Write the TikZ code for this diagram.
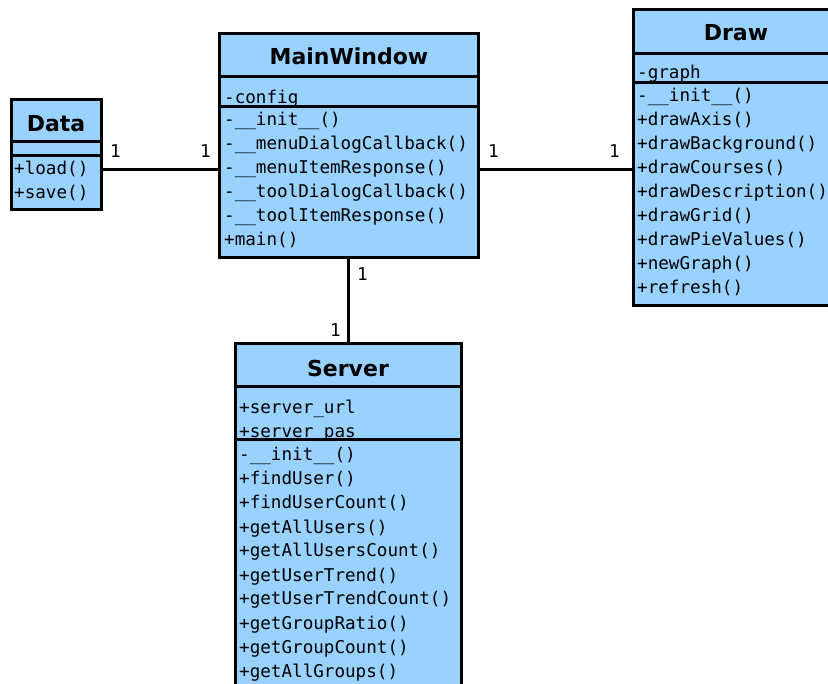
\documentclass[tikz,border=0pt]{standalone}
\usepackage{fontspec}
\setmainfont{DejaVu Sans}
\newfontfamily\umlmono{DejaVu Sans Mono}
\definecolor{umlfill}{RGB}{153,209,255}
\begin{document}
\begin{tikzpicture}[x=1pt,y=-1pt,
  classbox/.style={fill=umlfill, draw=none, anchor=north west, inner sep=0pt, outer sep=0pt},
  compfill/.style={fill=umlfill},
  outline/.style={draw=black, line width=3pt},
  title/.style={font=\fontsize{22}{26}\selectfont\bfseries, anchor=base, inner sep=0pt},
  member/.style={font=\umlmono\fontsize{17.6}{24}\selectfont, anchor=base west, inner sep=0pt},
  mult/.style={font=\umlmono\fontsize{17.6}{24}\selectfont, anchor=base west, inner sep=0pt},
  assoc/.style={draw=black, line width=3pt}]
\useasboundingbox (0,0) rectangle (828,684);
\clip (0,0) rectangle (828,684);

% ---------- class boxes (fills) ----------
\node[classbox, minimum width=90pt, minimum height=110pt] (data) at (11,100) {};
\node[classbox, minimum width=259pt, minimum height=224pt] (mw) at (219,34) {};
\node[classbox, minimum width=206pt, minimum height=296pt] (drawc) at (633,10) {};
\node[classbox, minimum width=226pt, minimum height=400pt] (server) at (235,344) {};

% ---------- connectors ----------
\coordinate (ylev) at (0,170);
\draw[assoc] (data.east |- ylev) -- (mw.west |- ylev);
\draw[assoc] (mw.east |- ylev) -- (drawc.west |- ylev);
\draw[assoc] (mw.south) -- (mw.south |- server.north);

\node[mult] (m1) at (110,158) {1};
\node[mult] (m2) at (200,158) {1};
\node[mult] (m3) at (488,158) {1};
\node[mult] (m4) at (609,158) {1};
\node[mult] (m5) at (357,281) {1};
\node[mult] (m6) at (330,337) {1};

% ---------- Data ----------
\node[title] (datat) at (56,131.5) {Data};
\fill[compfill] (11,156) rectangle (101,210);
\foreach \txt [count=\i from 0] in {+load(), +save()}
  \node[member] (datam\i) at (14,175+24*\i) {\txt};
\draw[outline] (11,142) -- (101,142);
\draw[outline] (11,156) -- (101,156);
\draw[outline] (data.north west) rectangle (data.south east);

% ---------- MainWindow ----------
\node[title] (mwt) at (349,65) {MainWindow};
\node[member] (mwa0) at (224,104) {-config};
\fill[compfill] (219,107) rectangle (478,258);
\foreach \txt [count=\i from 0] in {-\_\_init\_\_(), -\_\_menuDialogCallback(), -\_\_menuItemResponse(), -\_\_toolDialogCallback(), -\_\_toolItemResponse(), +main()}
  \node[member] (mwm\i) at (224,126+24*\i) {\txt};
\draw[outline] (219,77) -- (478,77);
\draw[outline] (219,107) -- (478,107);
\draw[outline] (mw.north west) rectangle (mw.south east);

% ---------- Draw ----------
\node[title] (drawt) at (736,41) {Draw};
\node[member] (drawa0) at (637,79) {-graph};
\fill[compfill] (633,83) rectangle (839,306);
\foreach \txt [count=\i from 0] in {-\_\_init\_\_(), +drawAxis(), +drawBackground(), +drawCourses(), +drawDescription(), +drawGrid(), +drawPieValues(), +newGraph(), +refresh()}
  \node[member] (drawm\i) at (637,102+24*\i) {\txt};
\draw[outline] (633,54) -- (839,54);
\draw[outline] (633,83) -- (839,83);
\draw[outline] (drawc.north west) rectangle (drawc.south east);

% ---------- Server ----------
\node[title] (servert) at (348,376.5) {Server};
\node[member] (servera0) at (239,414) {+server\_url};
\node[member] (servera1) at (239,438) {+server\_pas};
\fill[compfill] (235,440) rectangle (461,744);
\foreach \txt [count=\i from 0] in {-\_\_init\_\_(), +findUser(), +findUserCount(), +getAllUsers(), +getAllUsersCount(), +getUserTrend(), +getUserTrendCount(), +getGroupRatio(), +getGroupCount(), +getAllGroups()}
  \node[member] (serverm\i) at (239,461+24*\i) {\txt};
\draw[outline] (235,387) -- (461,387);
\draw[outline] (235,440) -- (461,440);
\draw[outline] (server.north west) rectangle (server.south east);
\end{tikzpicture}
\end{document}
